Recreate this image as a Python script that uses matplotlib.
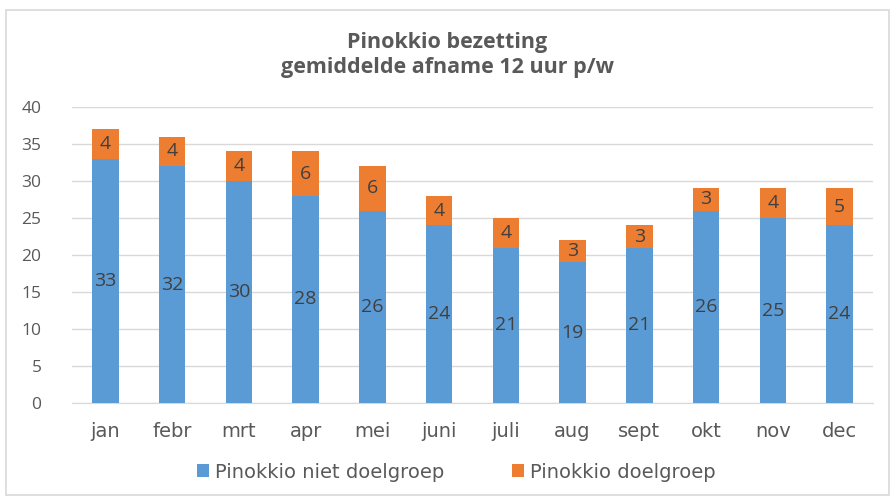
import matplotlib
matplotlib.use("Agg")
import matplotlib.pyplot as plt
from matplotlib.patches import Rectangle
import numpy as np

months = ["jan", "febr", "mrt", "apr", "mei", "juni", "juli", "aug", "sept", "okt", "nov", "dec"]
niet_doelgroep = [33, 32, 30, 28, 26, 24, 21, 19, 21, 26, 25, 24]
doelgroep = [4, 4, 4, 6, 6, 4, 4, 3, 3, 3, 4, 5]
yticks = [0, 5, 10, 15, 20, 25, 30, 35, 40]
title = "Pinokkio bezetting\ngemiddelde afname 12 uur p/w"
series_names = ["Pinokkio niet doelgroep", "Pinokkio doelgroep"]

BLUE = "#5B9BD5"
ORANGE = "#ED7D31"
GRAY = "#595959"
NARROW = ["Liberation Sans Narrow", "DejaVu Sans"]
WIDE = ["Open Sans", "DejaVu Sans"]

fig = plt.figure(figsize=(8.95, 4.99), dpi=100)
fig.patches.append(Rectangle((6/895, 4/499), 883/895, 485/499, transform=fig.transFigure,
                             fill=False, edgecolor="#D9D9D9", linewidth=1.2))
ax = fig.add_axes([72/895, 96/499, 801/895, 296/499])

x = np.arange(len(months))
b1 = ax.bar(x, niet_doelgroep, width=0.4, color=BLUE, label=series_names[0], zorder=3)
b2 = ax.bar(x, doelgroep, width=0.4, bottom=niet_doelgroep, color=ORANGE, label=series_names[1], zorder=3)

for xi, n, d in zip(x, niet_doelgroep, doelgroep):
    ax.text(xi, n / 2, str(n), ha="center", va="center", fontsize=14, color="#404040",
            family=WIDE, zorder=4)
    ax.text(xi, n + d / 2, str(d), ha="center", va="center", fontsize=14, color="#404040",
            family=WIDE, zorder=4)

ax.set_xlim(-0.5, len(months) - 0.5)
ax.set_ylim(0, 40)
ax.set_yticks(yticks)
ax.set_yticklabels([str(v) for v in yticks], family=WIDE, fontsize=12.5, color=GRAY)
ax.set_xticks(x)
ax.set_xticklabels(months, family=NARROW, fontsize=14, color=GRAY)
ax.tick_params(axis="both", length=0)
ax.tick_params(axis="y", pad=22)
ax.tick_params(axis="x", pad=14)
ax.grid(axis="y", color="#D9D9D9", linewidth=1, zorder=0)
for s in ["top", "right", "left"]:
    ax.spines[s].set_visible(False)
ax.spines["bottom"].set_color("#D9D9D9")

fig.text(0.5, 1 - 55/499, title, ha="center", va="center", fontsize=15.5,
         fontweight="bold", color=GRAY, family=WIDE, linespacing=1.3)

leg = fig.legend(handles=[b1, b2], labels=series_names, loc="center", bbox_to_anchor=(0.51, 1 - 472/499),
                 ncol=2, frameon=False, prop={"family": NARROW, "size": 14}, labelcolor=GRAY,
                 handlelength=0.6, handleheight=0.6, handletextpad=0.3, columnspacing=3.5)

fig.savefig("out.png", dpi=100)
